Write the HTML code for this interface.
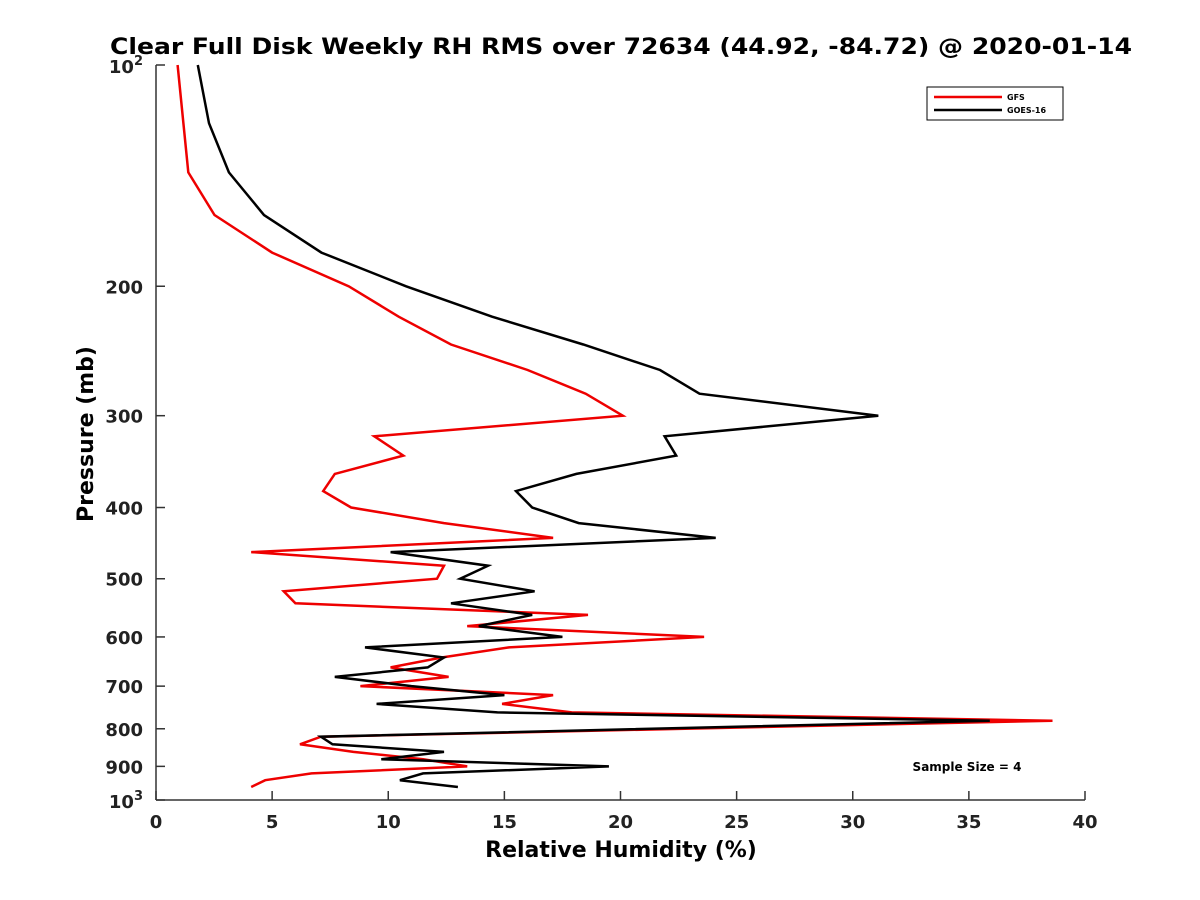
<!DOCTYPE html>
<html><head><meta charset="utf-8"><style>
body{margin:0;background:#fff;}
svg{display:block;font-family:"DejaVu Sans","Liberation Sans",sans-serif;}
</style></head><body>
<svg id="chart" width="1200" height="900">
<rect width="1200" height="900" fill="#fff"/>
<text x="621" y="54" text-anchor="middle" font-size="22" font-weight="bold" textLength="1022" lengthAdjust="spacingAndGlyphs">Clear Full Disk Weekly RH RMS over 72634 (44.92, -84.72) @ 2020-01-14</text>
<g id="axes"></g>
<g id="series"></g>
<g>
<rect x="927" y="87" width="136" height="33" fill="#fff" stroke="#000" stroke-width="1"/>
<line x1="934" y1="97" x2="1002" y2="97" stroke="#e00" stroke-width="2.5"/>
<text x="1007" y="100" font-size="8" font-weight="bold">GFS</text>
<line x1="934" y1="110" x2="1002" y2="110" stroke="#000" stroke-width="2.5"/>
<text x="1007" y="113" font-size="8" font-weight="bold">GOES-16</text>
</g>
<text x="967" y="771" text-anchor="middle" font-size="12" font-weight="bold">Sample Size = 4</text>
<text x="621" y="857" text-anchor="middle" font-size="22" font-weight="bold">Relative Humidity (%)</text>
<text transform="translate(93,434) rotate(-90)" text-anchor="middle" font-size="22" font-weight="bold">Pressure (mb)</text>
</svg>
<script>
const pressures=[100,120,140,160,180,200,220,240,260,280,300,320,340,360,380,400,420,440,460,480,500,520,540,560,580,600,620,640,660,680,700,720,740,760,780,820,840,860,880,900,920,940,960];
const gfsValues=[0.93,1.18,1.39,2.52,5.0,8.3,10.45,12.7,16.0,18.5,20.1,9.4,10.65,7.7,7.2,8.4,12.4,17.1,4.1,12.4,12.1,5.5,6.0,18.6,13.4,23.6,15.2,12.3,10.1,12.6,8.8,17.1,14.9,17.9,38.6,7.1,6.2,8.5,11.5,13.4,6.7,4.7,4.1];
const goesValues=[1.8,2.28,3.14,4.65,7.12,10.77,14.47,18.4,21.7,23.4,31.1,21.9,22.4,18.1,15.5,16.2,18.2,24.1,10.1,14.3,13.1,16.3,12.7,16.2,13.9,17.5,9.0,12.4,11.7,7.7,11.0,15.0,9.5,14.7,35.9,7.1,7.6,12.4,9.7,19.5,11.5,10.5,13.0];
const xTicks=[0,5,10,15,20,25,30,35,40];
const yTicks=[200,300,400,500,600,700,800,900];
const NS="http://www.w3.org/2000/svg";
const X0=156,X1=1085,Y0=65,Y1=800;
function xs(v){return X0+(v-0)/(40-0)*(X1-X0);}
function ys(p){return Y0+(Math.log10(p)-2)*(Y1-Y0);}
const axes=document.getElementById('axes');
function mk(tag,attrs,parent){const e=document.createElementNS(NS,tag);for(const k in attrs)e.setAttribute(k,attrs[k]);parent.appendChild(e);return e;}
const xAxis=mk('line',{x1:X0,y1:Y1,x2:X1,y2:Y1,stroke:'#333','stroke-width':1.5},axes);


const yAxis=mk('line',{x1:X0,y1:Y0,x2:X0,y2:Y1,stroke:'#333','stroke-width':1.5},axes);


xTicks.forEach(v=>{
 const t=mk('line',{x1:xs(v),y1:Y1,x2:xs(v),y2:Y1-9,stroke:'#333','stroke-width':1.5},axes);
 
 
 const l=mk('text',{x:xs(v),y:Y1+28,'text-anchor':'middle','font-size':18,'font-weight':'bold',fill:'#222'},axes);
 l.textContent=v;
 
 
});
yTicks.forEach(p=>{
 const t=mk('line',{x1:X0,y1:ys(p),x2:X0+9,y2:ys(p),stroke:'#333','stroke-width':1.5},axes);
 
 
 const l=mk('text',{x:X0-13,y:ys(p)+7,'text-anchor':'end','font-size':18,'font-weight':'bold',fill:'#222'},axes);
 l.textContent=p;
 
 
});
[[100,'2'],[1000,'3']].forEach(([p,e])=>{
 const t=mk('line',{x1:X0,y1:ys(p),x2:X0+9,y2:ys(p),stroke:'#333','stroke-width':1.5},axes);
 
 
 const l=mk('text',{x:X0-13,y:ys(p)+8,'text-anchor':'end','font-size':18,'font-weight':'bold',fill:'#222'},axes);
 
 
 const a=mk('tspan',{},l);a.textContent='10';
 const b=mk('tspan',{dy:-8,'font-size':13},l);b.textContent=e;
});
const series=document.getElementById('series');
function draw(vals,color,name){
 const pts=vals.map((v,i)=>xs(v).toFixed(1)+','+ys(pressures[i]).toFixed(1)).join(' ');
 const pl=mk('polyline',{points:pts,fill:'none',stroke:color,'stroke-width':2.5,'stroke-linejoin':'miter'},series);
 
 
}
draw(gfsValues,'#e00','gfs-line');
draw(goesValues,'#000','goes16-line');
</script>
</body></html>
